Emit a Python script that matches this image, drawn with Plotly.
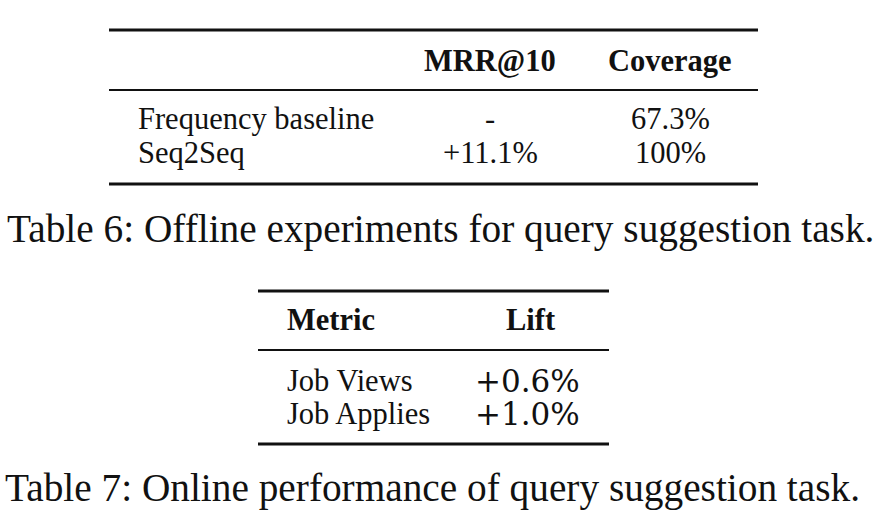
import plotly.graph_objects as go

# Table 6 data
t6_columns = ["", "MRR@10", "Coverage"]
t6_methods = ["Frequency baseline", "Seq2Seq"]
t6_mrr = ["-", "+11.1%"]
t6_coverage = ["67.3%", "100%"]
t6_caption = "Table 6: Offline experiments for query suggestion task."

# Table 7 data
t7_columns = ["Metric", "Lift"]
t7_metrics = ["Job Views", "Job Applies"]
t7_lift = ["+0.6%", "+1.0%"]
t7_caption = "Table 7: Online performance of query suggestion task."

SERIF = "Liberation Serif, Times New Roman, serif"
MATH = "DejaVu Serif, serif"
W, H = 883, 516

fig = go.Figure()

annotations = []
shapes = []


def text(x, y, s, size=30.5, bold=False, anchor="center", family=SERIF):
    annotations.append(dict(
        x=x, y=y, xref="x", yref="y", text=f"<b>{s}</b>" if bold else s,
        showarrow=False, xanchor=anchor, yanchor="middle",
        font=dict(family=family, size=size, color="#111")
    ))


def rule(x0, x1, y, width):
    shapes.append(dict(
        type="line", xref="x", yref="y", x0=x0, x1=x1, y0=y, y1=y,
        line=dict(color="#111", width=width)
    ))


# ---- Table 6 ----
t6_left, t6_right = 109, 758
t6_col_x = [136, 490, 670]
t6_header_y = 61
t6_row_y = [119, 153]

rule(t6_left, t6_right, 30, 3.2)
for name, x in zip(t6_columns[1:], t6_col_x[1:]):
    text(x, t6_header_y, name, bold=True)
rule(t6_left, t6_right, 90, 2)
for i, y in enumerate(t6_row_y):
    text(t6_col_x[0], y, t6_methods[i], anchor="left")
    text(t6_col_x[1], y, t6_mrr[i])
    text(t6_col_x[2], y, t6_coverage[i])
rule(t6_left, t6_right, 184, 3.2)
text(440, 229, t6_caption, size=39.3)

# ---- Table 7 ----
t7_left, t7_right = 258, 609
t7_col_x = [285, 527]
t7_header_y = 320
t7_row_y = [381, 414]

rule(t7_left, t7_right, 291, 3.2)
text(t7_col_x[0], t7_header_y, t7_columns[0], bold=True, anchor="left")
text(t7_col_x[1] + 4, t7_header_y, t7_columns[1], bold=True)
rule(t7_left, t7_right, 350, 2)
for i, y in enumerate(t7_row_y):
    text(t7_col_x[0], y, t7_metrics[i], anchor="left")
    text(t7_col_x[1], y, t7_lift[i], size=31, family=MATH)
rule(t7_left, t7_right, 444, 3.2)
text(432, 488, t7_caption, size=39.3)

fig.update_layout(
    width=W, height=H,
    margin=dict(l=0, r=0, t=0, b=0),
    paper_bgcolor="white", plot_bgcolor="white",
    xaxis=dict(range=[0, W], visible=False, fixedrange=True),
    yaxis=dict(range=[H, 0], visible=False, fixedrange=True),
    annotations=annotations, shapes=shapes,
    showlegend=False,
)

fig.write_html(
    "out.html",
    config={"displayModeBar": False},
    post_script="document.body.style.margin='0';",
)
